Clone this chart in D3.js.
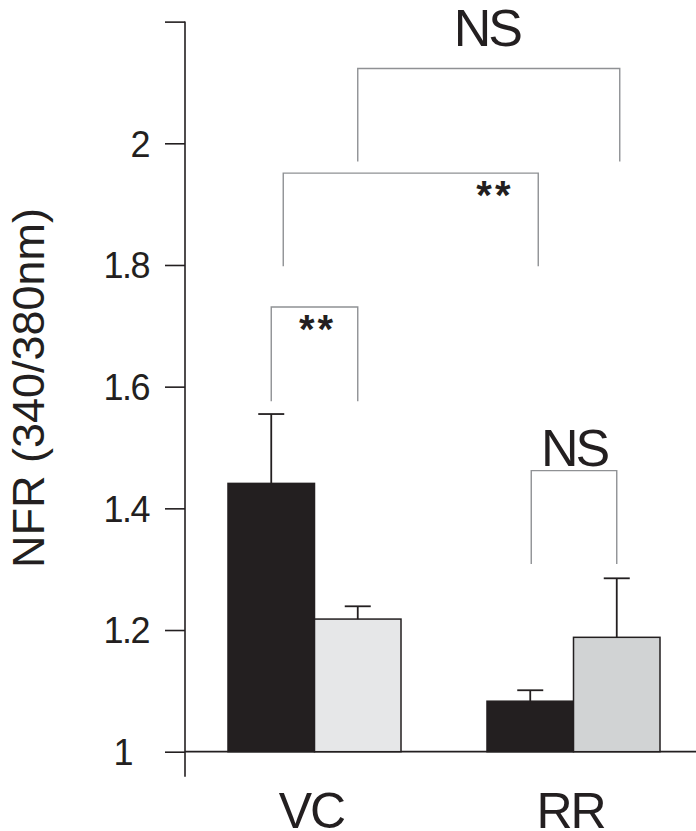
<!DOCTYPE html>
<html>
<head>
<meta charset="utf-8">
<script src="https://cdn.jsdelivr.net/npm/d3@7"></script>
<style>
  html, body { margin: 0; padding: 0; background: #fff; }
  svg { display: block; font-family: "Liberation Sans", Arial, Helvetica, sans-serif; }
</style>
</head>
<body>
<svg id="chart" width="696" height="831"></svg>
<script>
// ---- data ----
const groups = ["VC", "RR"];
const seriesColors = [
  ["#231f20", "#e6e7e8"],   // VC: black, light gray
  ["#231f20", "#d1d3d4"]    // RR: black, gray
];
const means = [
  [1.441, 1.218],   // VC
  [1.083, 1.188]    // RR
];
const errors = [
  [0.114, 0.021],
  [0.018, 0.097]
];
const yTicks = [1, 1.2, 1.4, 1.6, 1.8, 2, 2.2];
const yTickLabels = ["1", "1.2", "1.4", "1.6", "1.8", "2", ""];
// significance brackets: [group, bar] endpoints, top level, leg bottoms, label
const brackets = [
  { from: [0, 0], to: [0, 1], top: 1.731, legL: 1.576, legR: 1.576, label: "**" },
  { from: [0, 0], to: [1, 0], top: 1.951, legL: 1.798, legR: 1.798, label: "**" },
  { from: [0, 1], to: [1, 1], top: 2.123, legL: 1.970, legR: 1.970, label: "NS" },
  { from: [1, 0], to: [1, 1], top: 1.462, legL: 1.3085, legR: 1.3085, label: "NS" }
];
const yTitle = "NFR (340/380nm)";

// ---- scales ----
const svg = d3.select("#chart");
const y = d3.scaleLinear().domain([1, 2]).range([751.7, 143.3]);
const yMin = 0.959, yMax = 2.2;
const axisX = 185;

const x0 = d3.scaleBand().domain(groups).range([185, 703])
  .paddingInner(0.332).paddingOuter(0.166);
const x1 = d3.scaleBand().domain([0, 1]).range([0, x0.bandwidth()]);

const barCenter = (g, b) => x0(groups[g]) + x1(b) + x1.bandwidth() / 2;

// ---- axes ----
const yAxis = d3.axisLeft(y).tickValues(yTicks).tickSize(20).tickPadding(16)
  .tickFormat((d, i) => yTickLabels[i]);
const gy = svg.append("g").attr("transform", `translate(${axisX},0)`).call(yAxis);
gy.select(".domain").remove();
gy.selectAll(".tick line").attr("stroke", "#231f20").attr("stroke-width", 1.6);
gy.selectAll(".tick text")
  .attr("font-size", 36).attr("fill", "#231f20")
  .attr("dy", "0.36em")
  .attr("dx", (d) => d === 1 ? -17 : 0)
  .style("letter-spacing", "-1.5px");
svg.append("line")
  .attr("x1", axisX).attr("x2", axisX)
  .attr("y1", y(yMax)).attr("y2", y(yMin))
  .attr("stroke", "#231f20").attr("stroke-width", 1.6);

// x axis baseline
svg.append("line")
  .attr("x1", axisX).attr("x2", 696)
  .attr("y1", y(1)).attr("y2", y(1))
  .attr("stroke", "#231f20").attr("stroke-width", 1.8);

// ---- bars ----
groups.forEach((g, gi) => {
  const gg = svg.append("g");
  means[gi].forEach((v, bi) => {
    const bx = x0(g) + x1(bi);
    gg.append("rect")
      .attr("x", bx).attr("y", y(v))
      .attr("width", x1.bandwidth()).attr("height", y(1) - y(v))
      .attr("fill", seriesColors[gi][bi])
      .attr("stroke", "#231f20").attr("stroke-width", 1.5);
  });
});

// ---- error bars ----
groups.forEach((g, gi) => {
  means[gi].forEach((v, bi) => {
    const cx = barCenter(gi, bi);
    const top = v + errors[gi][bi];
    svg.append("line")
      .attr("x1", cx).attr("x2", cx).attr("y1", y(v)).attr("y2", y(top))
      .attr("stroke", "#231f20").attr("stroke-width", 1.8);
    svg.append("line")
      .attr("x1", cx - 13).attr("x2", cx + 13).attr("y1", y(top)).attr("y2", y(top))
      .attr("stroke", "#231f20").attr("stroke-width", 1.8);
  });
});

// ---- group labels ----
svg.append("g").selectAll("text").data(groups).join("text")
  .attr("x", (d) => x0(d) + x0.bandwidth() / 2 - 3)
  .attr("y", 828)
  .attr("text-anchor", "middle")
  .attr("font-size", 50)
  .attr("fill", "#231f20")
  .style("letter-spacing", "-2px")
  .text((d) => d);

// ---- brackets ----
const nudge = [[0, 0], [12, 8], [0, 3], [1, 0]];
brackets.forEach((b, i) => {
  const xl = barCenter(...b.from) + nudge[i][0];
  const xr = barCenter(...b.to) + nudge[i][1];
  svg.append("path")
    .attr("d", `M${xl},${y(b.legL)}V${y(b.top)}H${xr}V${y(b.legR)}`)
    .attr("fill", "none").attr("stroke", "#8f9194").attr("stroke-width", 1.4);
  const t = svg.append("text").attr("fill", "#231f20").attr("text-anchor", "middle").text(b.label);
  if (b.label === "NS") {
    t.attr("x", (xl + xr) / 2 + (i === 2 ? -2 : 0))
      .attr("y", y(b.top) - (i === 2 ? 22 : 5))
      .attr("font-size", 52)
      .style("letter-spacing", "-3px");
  } else {
    const cx = i === 0 ? (xl + xr) / 2 + 3 : xl + (xr - xl) * 0.83;
    t.attr("x", cx).attr("y", y(b.top) + 36)
      .attr("font-size", 40)
      .attr("font-weight", "bold")
      .style("letter-spacing", "3px");
  }
});

// ---- y title ----
svg.append("text")
  .attr("transform", `translate(44,388) rotate(-90)`)
  .attr("text-anchor", "middle")
  .attr("font-size", 45)
  .attr("fill", "#231f20")
  .text(yTitle);
</script>
</body>
</html>
